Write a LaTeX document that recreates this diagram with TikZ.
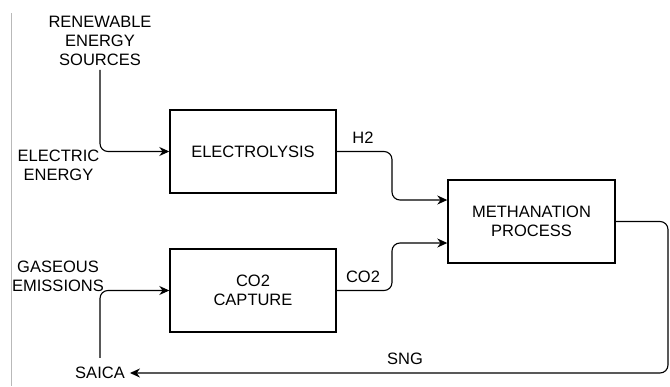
\documentclass[tikz,border=0pt]{standalone}
\usepackage{fontspec}
\setmainfont{Liberation Sans}
\usetikzlibrary{calc, positioning}
\usetikzlibrary{arrows.meta}

\begin{document}
\begin{tikzpicture}[x=1pt,y=-1pt,
    every node/.style={font=\fontsize{16.5}{19}\selectfont, align=center, inner sep=0pt},
    procbox/.style={draw, line width=1.4pt, minimum width=166pt, minimum height=83pt},
    flow/.style={line width=1.1pt, rounded corners=8pt, -{Stealth[length=10pt,width=9pt]}}]
\useasboundingbox (0,0) rectangle (670,386);

% Page edge
\draw[gray!55, line width=0.8pt] (11.7,13) -- (11.7,386);

% Process boxes
\node[procbox] (elec) at (253,151.5) {ELECTROLYSIS};
\node[procbox] (capt) at (253,290.5) {CO2\\CAPTURE};
\node[procbox, minimum width=167pt] (meth) at (531.5,221.5) {METHANATION\\PROCESS};

% Inputs and outputs
\node (res) at (100,41) {RENEWABLE\\ENERGY\\SOURCES};
\node (eleen) at (58.5,165) {ELECTRIC\\ENERGY};
\node (gas) at (58,276.5) {GASEOUS\\EMISSIONS};
\node (saica) at (100,373) {SAICA};

\coordinate (h2in) at ([yshift=21.5pt]meth.west);
\coordinate (co2in) at ([yshift=-21.5pt]meth.west);
\coordinate (sngturn) at (668,373);

% Flows
\draw[flow, shorten <=4pt] (res.south) |- (elec.west);
\draw[flow, shorten <=9pt] (saica.north) |- (capt.west);
\draw[flow] (elec.east) -| ($(elec.east)!0.5!(h2in)$) |- (h2in);
\draw[flow] (capt.east) -| ($(capt.east)!0.5!(co2in)$) |- (co2in);
\draw[flow, shorten >=5pt] (meth.east) -| (sngturn) -- (saica.east);

% Flow labels
\node (h2) at (363,138) {H2};
\node (co2) at (363,277) {CO2};
\node (sng) at (405,359) {SNG};
\end{tikzpicture}
\end{document}
